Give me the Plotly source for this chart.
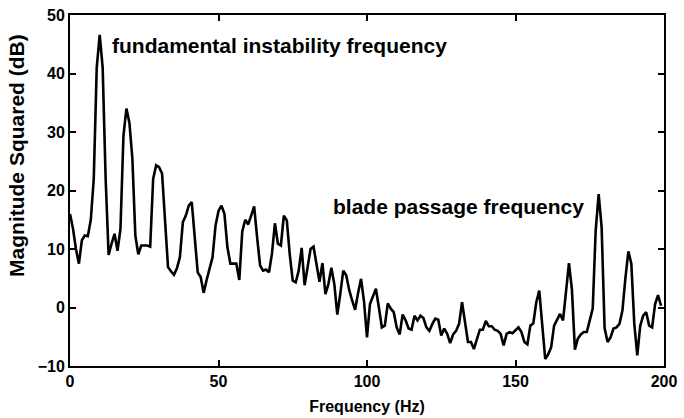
import plotly.graph_objects as go

freq_hz = list(range(0, 200))
magnitude_db = [
    16, 13.5, 10, 7.5, 11.5, 12.3, 12.2, 15, 22, 41,
    46.6, 41, 22, 9, 10.9, 12.6, 9.7, 13.5, 29.4, 34,
    31.6, 25.5, 12.3, 9.1, 10.6, 10.6, 10.6, 10.4, 22, 24.3,
    24, 22.9, 14, 6.9, 6.2, 5.6, 6.7, 8.6, 14.6, 15.7,
    17.4, 18, 12, 6, 5.2, 2.5, 4.7, 6.5, 8.6, 14,
    16.5, 17.4, 16, 10.3, 7.5, 7.5, 7.5, 4.7, 13, 15,
    14.2, 15.7, 17.3, 12, 7.2, 6.3, 6.5, 6, 9.2, 14.4,
    10.9, 10.6, 15.7, 14.9, 9, 4.6, 4.3, 6.3, 10.2, 3.8,
    6.6, 10, 10.4, 7.2, 4.4, 7.6, 2.3, 4, 6.8, 4,
    -1.2, 2.3, 6.3, 5.5, 3, 1.2, -0.4, 2.5, 4.9, 1,
    -5.1, 0.6, 2, 3.2, 0, -3.4, -3.1, 0.7, -0.2, -0.8,
    -3.4, -4.6, -1.2, -2.2, -3.6, -3.8, -1.4, -2.2, -1.4, -1.8,
    -3.4, -4, -2.8, -1.9, -2.1, -4.8, -3.6, -4.5, -6.1, -4.6,
    -4, -2.8, 0.9, -2.2, -5.9, -5.9, -7.1, -5.4, -3.8, -3.8,
    -2.3, -3.2, -3.2, -3.8, -4, -4.5, -6.5, -4.5, -4.2, -4.4,
    -3.9, -3.4, -4.2, -5.9, -6.3, -3.1, -2.7, 0.9, 2.9, -3.4,
    -8.8, -8, -6.8, -3.1, -2.2, -1.1, -2.2, 2.9, 7.6, 3,
    -7.2, -5.3, -4.6, -4.2, -4.2, -2.2, -0.2, 13.2, 19.4, 13.7,
    -3.5, -5.9, -5.1, -3.6, -3.4, -2.8, -0.5, 5, 9.6, 7.5,
    -2.8, -8.2, -3.1, -1.4, -0.8, -3.1, -3.4, 0.6, 2.1, 0.3,
]

x_ticks = [0, 50, 100, 150, 200]
y_ticks = [-10, 0, 10, 20, 30, 40, 50]

annotations_text = ["fundamental instability frequency", "blade passage frequency"]
annotations_x = [13.5, 87.9]
annotations_y = [44.8, 17.3]

axis_font = dict(family="Liberation Sans, Arial", size=16, color="black")
ann_font = dict(family="Liberation Sans, Arial", size=21, color="black")

fig = go.Figure()
fig.add_trace(go.Scatter(
    x=freq_hz, y=magnitude_db, mode="lines",
    line=dict(color="black", width=2.6), showlegend=False,
))

for t, ax, ay in zip(annotations_text, annotations_x, annotations_y):
    fig.add_annotation(x=ax, y=ay, text="<b>%s</b>" % t, showarrow=False,
                       xanchor="left", yanchor="middle", font=ann_font)

# y-axis label, placed as in the reference
fig.add_annotation(x=-0.09, y=0.6, xref="paper", yref="paper",
                   text="<b>Magnitude Squared (dB)</b>", textangle=-90,
                   showarrow=False, xanchor="center", yanchor="middle",
                   font=dict(family="Liberation Sans, Arial", size=21, color="black"))

axis_common = dict(
    showline=True, linecolor="black", linewidth=2, mirror="ticks",
    ticks="inside", ticklen=6, tickwidth=1.5, tickcolor="black",
    showgrid=False, zeroline=False, tickfont=axis_font, automargin=False,
)

fig.update_layout(
    width=684, height=418,
    margin=dict(l=70, r=20, t=15, b=52),
    paper_bgcolor="white", plot_bgcolor="white",
    xaxis=dict(range=[0, 200], tickvals=x_ticks,
               ticktext=["<b>%d</b>" % v for v in x_ticks],
               title=dict(text="<b>Frequency (Hz)</b>", font=axis_font, standoff=12),
               **axis_common),
    yaxis=dict(range=[-10, 50], tickvals=y_ticks,
               ticktext=["<b>%s</b>" % ("\u2212%d" % -v if v < 0 else "%d" % v) for v in y_ticks],
               **axis_common),
)

fig.write_html("out.html")
